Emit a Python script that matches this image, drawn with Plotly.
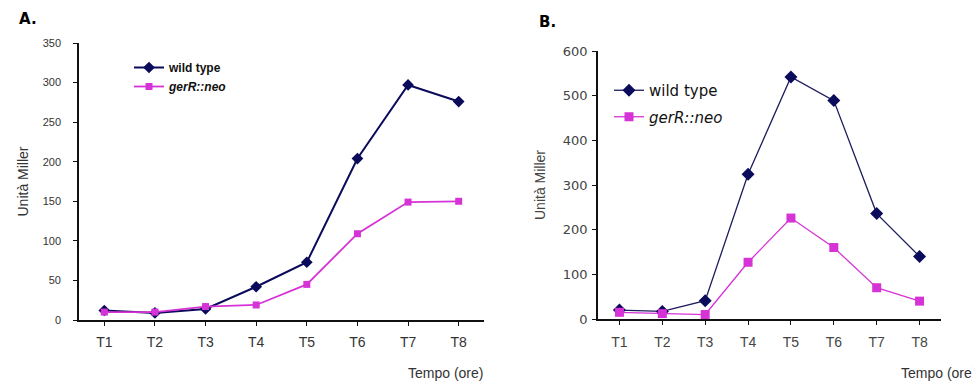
import plotly.graph_objects as go

categories = ["T1", "T2", "T3", "T4", "T5", "T6", "T7", "T8"]

# Panel A
a_wild = [12, 9, 14, 42, 73, 204, 297, 276]
a_ger = [10, 10, 17, 19, 45, 109, 149, 150]

# Panel B
b_wild = [20, 17, 41, 324, 542, 489, 236, 140]
b_ger = [15, 12, 10, 127, 226, 160, 70, 40]

a_ticks = [0, 50, 100, 150, 200, 250, 300, 350]
b_ticks = [0, 100, 200, 300, 400, 500, 600]

NAVY = "#0b0b5c"
MAG = "#d633d6"
W, H, OFF = 980, 385, 8


def px(x):
    return (x - OFF) / W


def py(y):
    return 1 - (y - OFF) / H


fig = go.Figure()

fig.add_trace(go.Scatter(x=categories, y=a_wild, name="<b>wild type</b>", xaxis="x", yaxis="y",
                         mode="lines+markers", line=dict(color=NAVY, width=2),
                         marker=dict(symbol="diamond", size=9, color=NAVY), legend="legend"))
fig.add_trace(go.Scatter(x=categories, y=a_ger, name="<b><i>gerR::neo</i></b>", xaxis="x", yaxis="y",
                         mode="lines+markers", line=dict(color=MAG, width=1.8),
                         marker=dict(symbol="square", size=7, color=MAG), legend="legend"))
fig.add_trace(go.Scatter(x=categories, y=b_wild, name="wild type", xaxis="x2", yaxis="y2",
                         mode="lines+markers", line=dict(color="#1c1c5e", width=1.3),
                         marker=dict(symbol="diamond", size=10, color=NAVY), legend="legend2",
                         legendgroup="bw"))
fig.add_trace(go.Scatter(x=categories, y=b_ger, name="<i>gerR::neo</i>", xaxis="x2", yaxis="y2",
                         mode="lines+markers", line=dict(color=MAG, width=1.3),
                         marker=dict(symbol="square", size=9, color=MAG), legend="legend2",
                         legendgroup="bg"))

axis_common = dict(showline=True, linecolor="#111", linewidth=1.6, showgrid=False, zeroline=False,
                   ticks="outside", ticklen=4, tickcolor="#111", tickwidth=1.2, automargin=False)
FONT = "Liberation Sans, Arial"
WIDE = "DejaVu Sans, Verdana"

fig.update_layout(
    width=W, height=H, margin=dict(l=0, r=0, t=0, b=0, autoexpand=False),
    paper_bgcolor="white", plot_bgcolor="white",
    showlegend=True,
    xaxis=dict(domain=[px(79), px(484)], anchor="y", type="category", range=[-0.5, 7.5],
               ticklabelstandoff=4,
               tickfont=dict(family=FONT, size=14, color="#333"), **axis_common),
    yaxis=dict(domain=[py(320), py(43)], anchor="x", range=[0, 350], tickvals=a_ticks,
               ticklabelstandoff=10,
               tickfont=dict(family=FONT, size=11, color="#333"),
               title=dict(text="Unità Miller", font=dict(family=FONT, size=14, color="#333"), standoff=11),
               **axis_common),
    xaxis2=dict(domain=[px(598), px(941)], anchor="y2", type="category", range=[-0.5, 7.5],
                ticklabelstandoff=5,
                tickfont=dict(family=FONT, size=14, color="#444"), **axis_common),
    yaxis2=dict(domain=[py(319), py(51)], anchor="x2", range=[0, 600], tickvals=b_ticks,
                ticklabelstandoff=2,
                tickfont=dict(family=WIDE, size=13, color="#444"),
                title=dict(text="Unità Miller", font=dict(family=FONT, size=14, color="#444"), standoff=14),
                **axis_common),
    legend=dict(x=px(129), y=py(53), xanchor="left", yanchor="top", bgcolor="rgba(0,0,0,0)",
                font=dict(family=FONT, size=12, color="#111"), itemwidth=30),
    legend2=dict(x=px(609), y=py(74), xanchor="left", yanchor="top", bgcolor="rgba(0,0,0,0)",
                 font=dict(family=WIDE, size=15, color="#111"), itemwidth=30,
                 traceorder="grouped", tracegroupgap=4),
    annotations=[
        dict(text="<b>A.</b>", x=px(17), y=py(19), xref="paper", yref="paper", xanchor="left", yanchor="middle",
             showarrow=False, font=dict(family="DejaVu Sans", size=15, color="#000")),
        dict(text="<b>B.</b>", x=px(537), y=py(22), xref="paper", yref="paper", xanchor="left", yanchor="middle",
             showarrow=False, font=dict(family="DejaVu Sans", size=15, color="#000")),
        dict(text="Tempo (ore)", x=px(485), y=py(373), xref="paper", yref="paper", xanchor="right", yanchor="middle",
             showarrow=False, font=dict(family=FONT, size=14, color="#333")),
        dict(text="Tempo (ore)", x=px(978), y=py(373), xref="paper", yref="paper", xanchor="right", yanchor="middle",
             showarrow=False, font=dict(family=FONT, size=14, color="#333")),
    ],
)

fig.write_html("out.html")
